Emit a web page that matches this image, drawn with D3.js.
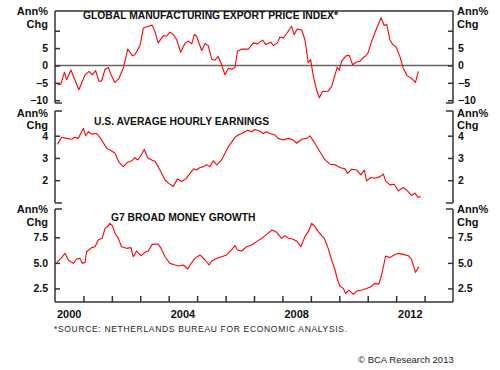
<!DOCTYPE html>
<html>
<head>
<meta charset="utf-8">
<script src="https://cdn.jsdelivr.net/npm/d3@7"></script>
<style>
  body { margin: 0; background: #fff; }
  svg { display: block; font-family: "Liberation Sans", Arial, sans-serif; }
</style>
</head>
<body>
<div id="chart"></div>
<script>
// series: [decimal year, annual % change]
var exportPrice = [
  [2000.09,-5.6],[2000.21,-5.3],[2000.33,-2.0],[2000.41,-4.1],[2000.56,-1.3],[2000.84,-7.0],
  [2001.06,-2.7],[2001.20,-1.7],[2001.31,-2.7],[2001.43,-1.5],[2001.55,-4.6],[2001.64,-4.4],
  [2001.76,-1.1],[2001.88,-0.6],[2001.97,-2.7],[2002.11,-4.9],[2002.25,-3.7],[2002.40,-0.8],
  [2002.56,4.7],[2002.72,2.8],[2002.81,3.1],[2002.99,5.7],[2003.11,10.8],[2003.28,11.3],
  [2003.42,11.6],[2003.52,9.6],[2003.63,6.5],[2003.81,8.6],[2003.93,8.4],[2004.04,9.6],
  [2004.16,8.9],[2004.28,7.4],[2004.42,3.8],[2004.57,6.3],[2004.69,7.0],[2004.81,6.2],
  [2004.90,8.9],[2004.98,8.4],[2005.16,4.3],[2005.28,6.3],[2005.39,5.7],[2005.51,1.8],
  [2005.63,1.5],[2005.74,2.6],[2005.84,0.7],[2005.98,-2.7],[2006.10,-0.8],[2006.21,-1.1],
  [2006.33,-0.6],[2006.42,4.1],[2006.57,4.7],[2006.80,4.7],[2006.98,6.5],[2007.12,6.2],
  [2007.30,7.3],[2007.42,6.0],[2007.59,6.7],[2007.68,5.7],[2007.82,6.5],[2007.91,8.2],
  [2008.03,7.9],[2008.15,9.2],[2008.32,11.3],[2008.41,8.9],[2008.52,10.5],[2008.68,10.2],
  [2008.79,7.4],[2008.91,0.7],[2008.99,1.7],[2009.09,-3.2],[2009.20,-7.0],[2009.30,-9.3],
  [2009.41,-7.5],[2009.61,-7.4],[2009.73,-6.1],[2009.85,-2.7],[2009.93,-0.5],[2010.00,-1.4],
  [2010.08,1.2],[2010.24,2.8],[2010.35,2.9],[2010.47,0.2],[2010.59,0.9],[2010.73,1.2],
  [2010.85,2.4],[2010.94,2.8],[2011.02,3.8],[2011.14,7.0],[2011.29,10.2],[2011.47,13.7],
  [2011.58,11.5],[2011.67,11.8],[2011.78,7.4],[2011.88,6.0],[2012.00,5.3],[2012.13,2.6],
  [2012.25,-0.8],[2012.39,-3.0],[2012.54,-3.7],[2012.68,-4.9],[2012.78,-1.7]
];

var hourlyEarnings = [
  [2000.09,3.61],[2000.23,3.93],[2000.41,3.88],[2000.59,3.84],[2000.70,3.93],[2000.82,3.88],
  [2001.00,4.33],[2001.08,4.00],[2001.17,4.18],[2001.29,4.07],[2001.47,4.10],[2001.64,3.81],
  [2001.82,3.43],[2001.99,3.31],[2002.11,3.21],[2002.25,2.81],[2002.40,2.61],[2002.56,2.81],
  [2002.70,2.87],[2002.81,3.01],[2002.91,2.91],[2003.02,3.10],[2003.14,3.39],[2003.26,3.01],
  [2003.40,2.91],[2003.52,2.84],[2003.63,2.61],[2003.75,2.31],[2003.87,2.01],[2003.99,1.87],
  [2004.16,1.72],[2004.31,2.06],[2004.45,1.94],[2004.60,2.06],[2004.75,2.31],[2004.87,2.51],
  [2004.98,2.46],[2005.10,2.57],[2005.22,2.61],[2005.33,2.69],[2005.45,2.61],[2005.57,2.87],
  [2005.69,2.69],[2005.86,2.91],[2005.98,3.21],[2006.10,3.51],[2006.21,3.70],[2006.33,3.93],
  [2006.45,4.03],[2006.57,4.10],[2006.68,4.18],[2006.78,4.25],[2006.92,4.18],[2007.03,4.28],
  [2007.17,4.22],[2007.33,4.10],[2007.44,4.18],[2007.56,4.10],[2007.74,4.03],[2007.85,3.88],
  [2008.03,3.81],[2008.21,3.88],[2008.38,3.81],[2008.50,3.66],[2008.68,3.84],[2008.85,3.88],
  [2008.97,3.99],[2009.14,3.66],[2009.32,3.28],[2009.50,2.91],[2009.67,2.72],[2009.85,2.69],
  [2010.02,2.57],[2010.20,2.51],[2010.29,2.31],[2010.43,2.49],[2010.61,2.46],[2010.76,2.24],
  [2010.88,2.46],[2010.96,1.97],[2011.11,2.12],[2011.25,2.09],[2011.43,2.16],[2011.55,2.27],
  [2011.63,1.97],[2011.78,1.79],[2011.93,1.82],[2012.08,1.52],[2012.25,1.67],[2012.40,1.52],
  [2012.54,1.31],[2012.66,1.42],[2012.78,1.22],[2012.87,1.27]
];

var broadMoney = [
  [2000.06,5.05],[2000.21,5.44],[2000.35,5.93],[2000.47,5.28],[2000.64,4.95],[2000.76,5.38],
  [2000.88,5.44],[2000.96,4.95],[2001.06,5.05],[2001.11,6.09],[2001.29,6.49],[2001.41,6.58],
  [2001.52,7.24],[2001.66,7.40],[2001.76,8.38],[2001.85,8.55],[2001.93,8.87],[2002.02,8.64],
  [2002.11,7.89],[2002.23,7.40],[2002.34,6.58],[2002.52,6.42],[2002.67,6.49],[2002.75,5.60],
  [2002.87,6.16],[2003.02,5.70],[2003.17,6.03],[2003.28,6.16],[2003.42,6.81],[2003.63,6.85],
  [2003.73,6.42],[2003.87,5.60],[2004.04,4.95],[2004.22,4.79],[2004.36,4.69],[2004.51,4.79],
  [2004.67,4.40],[2004.75,4.79],[2004.92,5.44],[2005.10,5.77],[2005.28,5.28],[2005.42,4.79],
  [2005.51,5.18],[2005.69,5.44],[2005.86,5.60],[2006.04,5.77],[2006.21,6.26],[2006.33,6.68],
  [2006.42,6.26],[2006.57,6.16],[2006.74,6.58],[2006.92,6.75],[2007.09,7.08],[2007.27,7.40],
  [2007.44,7.79],[2007.64,8.22],[2007.80,7.99],[2007.97,7.40],[2008.09,7.66],[2008.21,7.40],
  [2008.35,7.34],[2008.50,7.14],[2008.65,6.58],[2008.79,7.57],[2008.91,8.06],[2009.03,8.87],
  [2009.12,8.64],[2009.26,8.06],[2009.47,7.40],[2009.61,6.42],[2009.73,5.28],[2009.85,4.30],
  [2009.94,3.32],[2010.02,2.73],[2010.14,2.50],[2010.23,2.01],[2010.34,2.34],[2010.49,1.92],
  [2010.61,2.24],[2010.79,2.34],[2010.96,2.50],[2011.11,2.66],[2011.25,2.99],[2011.39,2.92],
  [2011.49,3.81],[2011.63,5.67],[2011.78,5.51],[2011.93,5.77],[2012.08,5.93],[2012.25,5.83],
  [2012.43,5.70],[2012.54,5.34],[2012.68,4.07],[2012.80,4.62]
];

var exportTicks = [-10, -5, 0, 5, 10];
var earningsTicks = [2, 3, 4];
var moneyTicks = [2.5, 5.0, 7.5];
var yearTicks = d3.range(2001, 2014);
var yearLabels = [2000, 2004, 2008, 2012];

var LEFT = 55, RIGHT = 453, TICK = 5;
var RED = '#ff0000', AXIS = '#333';

var svg = d3.select('#chart').append('svg')
    .attr('width', 500)
    .attr('height', 370);

var x = d3.scaleLinear().domain([2000, 2014]).range([LEFT, RIGHT]);

// the three stacked panels share the x scale, each has its own y scale
var panels = [
    {
        title: 'GLOBAL MANUFACTURING EXPORT PRICE INDEX*', data: exportPrice, ticks: exportTicks,
        y: d3.scaleLinear().domain([-10, 10]).range([100.2, 30.7]),
        top: 11, bottom: 103, titleX: 83, titleY: 19, unitY: 15, fmt: d3.format('d'),
        skip: 10, zero: true
    },
    {
        title: 'U.S. AVERAGE HOURLY EARNINGS', data: hourlyEarnings, ticks: earningsTicks,
        y: d3.scaleLinear().domain([2, 4]).range([180.2, 135.7]),
        top: 111, bottom: 203, titleX: 94, titleY: 125, unitY: 116.5, fmt: d3.format('d')
    },
    {
        title: 'G7 BROAD MONEY GROWTH', data: broadMoney, ticks: moneyTicks,
        y: d3.scaleLinear().domain([2.5, 7.5]).range([288.4, 237.3]),
        top: 209, bottom: 302, titleX: 111, titleY: 221, unitY: 213, fmt: d3.format('.1f')
    }
];

// outer frame: top line
svg.append('line')
    .attr('x1', LEFT).attr('x2', RIGHT).attr('y1', 11).attr('y2', 11)
    .attr('stroke', AXIS).attr('stroke-width', 1.5);

panels.forEach(function drawPanel(p, i) {
    var g = svg.append('g').attr('class', 'panel');

    if (p.zero) {
        g.append('line')
            .attr('x1', LEFT).attr('x2', RIGHT)
            .attr('y1', p.y(0)).attr('y2', p.y(0))
            .attr('stroke', '#666').attr('stroke-width', 1.5);
    }

    // left and right axes, ticks pointing inward
    var fmt = function (d) { return d === p.skip ? '' : p.fmt(d); };
    var left = d3.axisLeft(p.y).tickValues(p.ticks).tickSizeInner(-TICK).tickSizeOuter(0).tickPadding(7).tickFormat(fmt);
    var right = d3.axisRight(p.y).tickValues(p.ticks).tickSizeInner(-TICK).tickSizeOuter(0).tickPadding(5).tickFormat(fmt);

    [[left, LEFT], [right, RIGHT]].forEach(function (a) {
        var ax = g.append('g').attr('transform', 'translate(' + a[1] + ',0)').call(a[0]);
        ax.select('.domain').remove();
        ax.selectAll('line').attr('stroke', AXIS).attr('stroke-width', 1.5);
        ax.selectAll('text')
            .attr('fill', '#111')
            .style('font-size', '10.5px').style('font-weight', 'bold');
    });

    // axis spines with little break stubs at the panel ends
    [LEFT, RIGHT].forEach(function (xPos) {
        var dir = xPos === LEFT ? 1 : -1;
        g.append('line')
            .attr('x1', xPos).attr('x2', xPos).attr('y1', p.top).attr('y2', p.bottom)
            .attr('stroke', AXIS).attr('stroke-width', 1.5);
        if (i > 0) {
            g.append('line')
                .attr('x1', xPos).attr('x2', xPos + dir * 7).attr('y1', p.top).attr('y2', p.top)
                .attr('stroke', AXIS).attr('stroke-width', 1.5);
        }
        if (i < panels.length - 1) {
            g.append('line')
                .attr('x1', xPos).attr('x2', xPos + dir * 7).attr('y1', p.bottom).attr('y2', p.bottom)
                .attr('stroke', AXIS).attr('stroke-width', 1.5);
        }
    });

    // unit labels on both sides
    [['end', 48], ['start', 457]].forEach(function (u) {
        var t = g.append('text')
            .attr('text-anchor', u[0])
            .attr('fill', '#111')
            .style('font-size', '11px').style('font-weight', 'bold');
        t.append('tspan').attr('x', u[1]).attr('y', p.unitY).text('Ann%');
        t.append('tspan').attr('x', u[1]).attr('y', p.unitY + 12.5).text('Chg');
    });

    g.append('text')
        .attr('x', p.titleX).attr('y', p.titleY)
        .attr('fill', '#111')
        .style('font-size', '10.3px').style('font-weight', 'bold')
        .text(p.title);

    var line = d3.line()
        .x(function (d) { return x(d[0]); })
        .y(function (d) { return p.y(d[1]); });

    g.append('path')
        .datum(p.data)
        .attr('fill', 'none')
        .attr('stroke', RED)
        .attr('stroke-width', 1.1)
        .attr('stroke-linejoin', 'round')
        .attr('d', line);
});

// time axis at the bottom, yearly ticks pointing up
var xAxis = d3.axisBottom(x).tickValues(yearTicks).tickSizeInner(-6).tickSizeOuter(0).tickFormat('');
var xg = svg.append('g').attr('transform', 'translate(0,302)').call(xAxis);
xg.select('.domain').remove();
xg.selectAll('line').attr('stroke', AXIS).attr('stroke-width', 1.5);
svg.append('line')
    .attr('x1', LEFT).attr('x2', RIGHT).attr('y1', 302).attr('y2', 302)
    .attr('stroke', AXIS).attr('stroke-width', 1.5);

// year labels sit in the middle of their year
svg.selectAll('.year-label')
    .data(yearLabels)
    .enter().append('text')
    .attr('class', 'year-label')
    .attr('x', function (d) { return x(d + 0.5); })
    .attr('y', 317.5)
    .attr('text-anchor', 'middle')
    .attr('fill', '#111')
    .style('font-size', '11px').style('font-weight', 'bold')
    .text(function (d) { return d; });

svg.append('text')
    .attr('x', 54).attr('y', 332)
    .attr('textLength', 293).attr('lengthAdjust', 'spacing')
    .attr('fill', '#222')
    .style('font-size', '8.5px')
    .text('*SOURCE: NETHERLANDS BUREAU FOR ECONOMIC ANALYSIS.');

svg.append('text')
    .attr('x', 358).attr('y', 362.5)
    .attr('fill', '#222')
    .style('font-size', '9.5px')
    .text('\u00a9 BCA Research 2013');
</script>
</body>
</html>
